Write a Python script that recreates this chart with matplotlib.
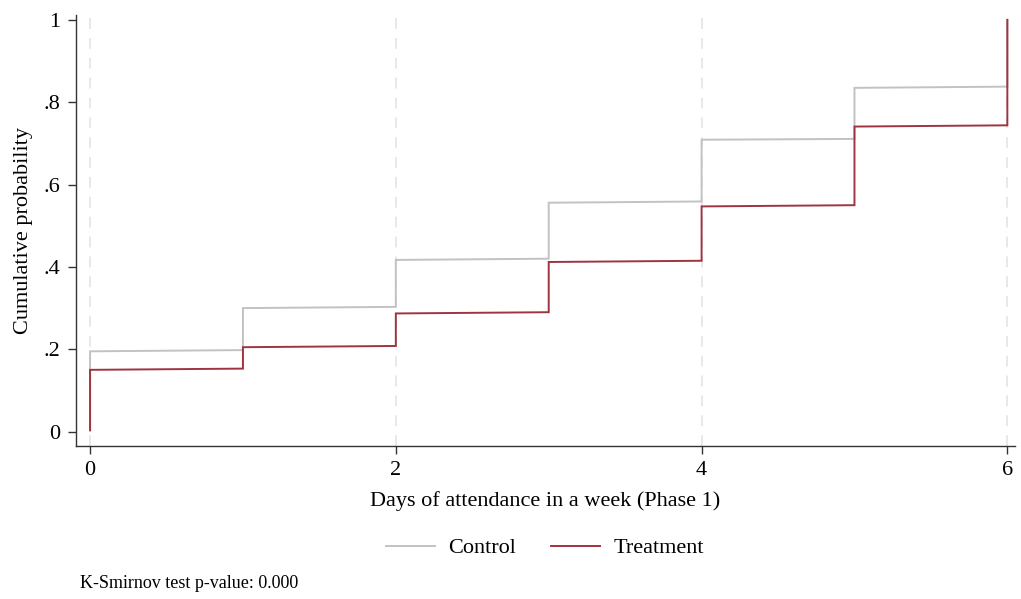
import matplotlib
matplotlib.use('Agg')
import matplotlib.pyplot as plt

plt.rcParams['font.family'] = ['Liberation Serif', 'DejaVu Serif']

# days of attendance (Phase 1)
days = [0, 1, 2, 3, 4, 5, 6]
# cumulative probability at first / last observation of each day
control_lo = [0.003, 0.198, 0.303, 0.420, 0.559, 0.711, 0.838]
control_hi = [0.195, 0.300, 0.417, 0.556, 0.709, 0.835, 1.000]
treat_lo = [0.003, 0.153, 0.208, 0.290, 0.415, 0.550, 0.744]
treat_hi = [0.150, 0.205, 0.287, 0.412, 0.547, 0.741, 1.000]

x_ticks = [0, 2, 4, 6]
y_ticks = [0, 0.2, 0.4, 0.6, 0.8, 1]
y_tick_labels = ['0', '.2', '.4', '.6', '.8', '1']


def build_path(lo, hi):
    # cumulative line: vertical within a day, then on to the next day
    xs, ys = [], []
    for d, a, b in zip(days, lo, hi):
        xs += [d, d]
        ys += [a, b]
    return xs, ys


fig = plt.figure(figsize=(10.21, 5.99), dpi=100)
ax = fig.add_axes([76 / 1021, (599 - 446) / 599, (1015 - 76) / 1021, (446 - 15) / 599])

for x in x_ticks:
    ax.axvline(x, color='#e6e6e6', lw=1.3, ls=(0, (6, 5)), zorder=0)

cx, cy = build_path(control_lo, control_hi)
tx, ty = build_path(treat_lo, treat_hi)
ax.plot(cx, cy, color='#c2c2c2', lw=1.4, label='Control', solid_joinstyle='miter')
ax.plot(tx, ty, color='#9e3440', lw=1.4, label='Treatment', solid_joinstyle='miter')

ax.set_xlim(-0.092, 6.05)
ax.set_ylim(-0.035, 1.012)
ax.set_xticks(x_ticks)
ax.set_yticks(y_ticks)
ax.set_yticklabels(y_tick_labels)
ax.tick_params(labelsize=16, length=6, width=1, color='#333333', pad=5)

for s in ['top', 'right']:
    ax.spines[s].set_visible(False)
for s in ['left', 'bottom']:
    ax.spines[s].set_color('#333333')
    ax.spines[s].set_linewidth(1)

ax.set_xlabel('Days of attendance in a week (Phase 1)', fontsize=16, labelpad=8)
ax.set_ylabel('Cumulative probability', fontsize=16, labelpad=8)

fig.legend(loc='center', bbox_to_anchor=(545 / 1021, 1 - 548 / 599), ncol=2,
           frameon=False, fontsize=16, handlelength=2.2, handletextpad=0.6,
           columnspacing=1.6)

fig.text(80 / 1021, 1 - 583 / 599, 'K-Smirnov test p-value: 0.000',
         fontsize=13, va='center', ha='left')

fig.savefig('out.png', dpi=100)
